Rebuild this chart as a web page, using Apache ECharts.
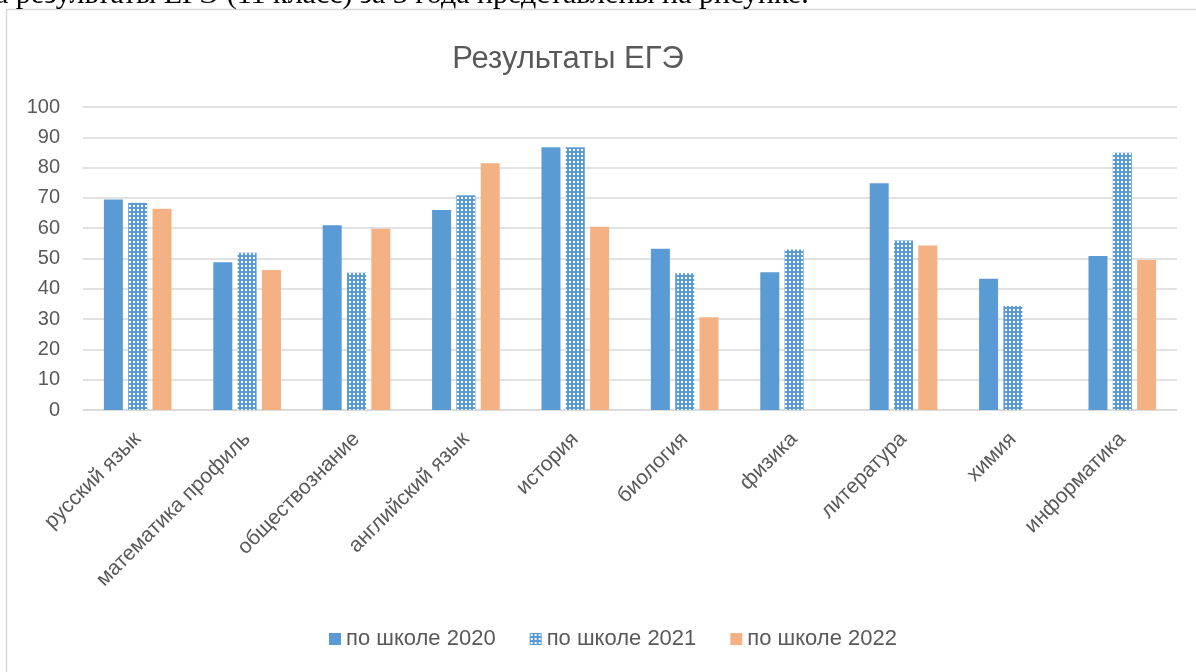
<!DOCTYPE html>
<html>
<head>
<meta charset="utf-8">
<script src="https://cdn.jsdelivr.net/npm/echarts@6/dist/echarts.min.js"></script>
<style>
html,body{margin:0;padding:0;background:#fff;}
#c{width:1196px;height:672px;}
</style>
</head>
<body>
<div id="c"></div>
<script>
const categories = ['русский язык','математика профиль','обществознание','английский язык','история','биология','физика','литература','химия','информатика'];
const s2020 = [69.5, 48.8, 61.0, 66.0, 86.7, 53.2, 45.5, 74.8, 43.3, 50.8];
const s2021 = [68.4, 51.9, 45.3, 70.9, 86.7, 45.1, 53.0, 55.9, 34.3, 84.9];
const s2022 = [66.4, 46.2, 59.8, 81.4, 60.5, 30.6, null, 54.3, null, 49.5];
const seriesNames = ['по школе 2020','по школе 2021','по школе 2022'];
const yTicks = [0,10,20,30,40,50,60,70,80,90,100];

const pc = document.createElement('canvas');
pc.width = 4; pc.height = 4;
const g = pc.getContext('2d');
g.fillStyle = '#5b9bd5'; g.fillRect(0,0,4,4);
g.fillStyle = '#ffffff'; g.fillRect(1,1,2,2);
const pattern = {image: pc, repeat: 'repeat'};

const chart = echarts.init(document.getElementById('c'), null, {renderer:'canvas'});
const font = 'Liberation Sans';
chart.setOption({
  animation: false,
  backgroundColor: '#fff',
  title: {
    text: 'Результаты ЕГЭ',
    left: 563, top: 39, textAlign: 'center',
    textStyle: {fontFamily: font, fontSize: 31, fontWeight: 'normal', color: '#595959'}
  },
  graphic: [
    {type:'rect', shape:{x:6.5,y:9.5,width:1300,height:800}, style:{fill:'none', stroke:'#d9d9d9', lineWidth:1.5}, silent:true},
    {type:'text', x:-20, y:10, style:{text:'За результаты ЕГЭ (11 класс) за 3 года представлены на рисунке.', font:'30px "Liberation Serif"', fill:'#000', textVerticalAlign:'bottom'}}
  ],
  legend: {
    data: seriesNames,
    left: 324, top: 623,
    itemWidth: 12, itemHeight: 12, itemGap: 34,
    icon: 'rect',
    textStyle: {fontFamily: font, fontSize: 22, color: '#595959'}
  },
  grid: {left: 83, right: 19, top: 107, bottom: 262, containLabel: false},
  xAxis: {
    type: 'category', data: categories,
    axisLine: {lineStyle: {color: '#d9d9d9', width: 1.5}},
    axisTick: {show: false},
    axisLabel: {rotate: 45, interval: 0, margin: 26, fontFamily: font, fontSize: 21, color: '#595959'}
  },
  yAxis: {
    type: 'value', min: 0, max: 100, interval: 10,
    axisLine: {show: false}, axisTick: {show: false},
    splitLine: {lineStyle: {color: '#d9d9d9', width: 1.5}},
    axisLabel: {margin: 23, fontFamily: font, fontSize: 20, color: '#595959',
      formatter: v => yTicks.includes(v) ? String(v) : ''}
  },
  series: [
    {name: seriesNames[0], type: 'bar', data: s2020, barWidth: 19, barGap: '28%', itemStyle: {color: '#5b9bd5'}},
    {name: seriesNames[1], type: 'bar', data: s2021, barWidth: 19, barGap: '28%', itemStyle: {color: pattern}},
    {name: seriesNames[2], type: 'bar', data: s2022, barWidth: 19, barGap: '28%', itemStyle: {color: '#f4b183'}}
  ]
});
</script>
</body>
</html>
